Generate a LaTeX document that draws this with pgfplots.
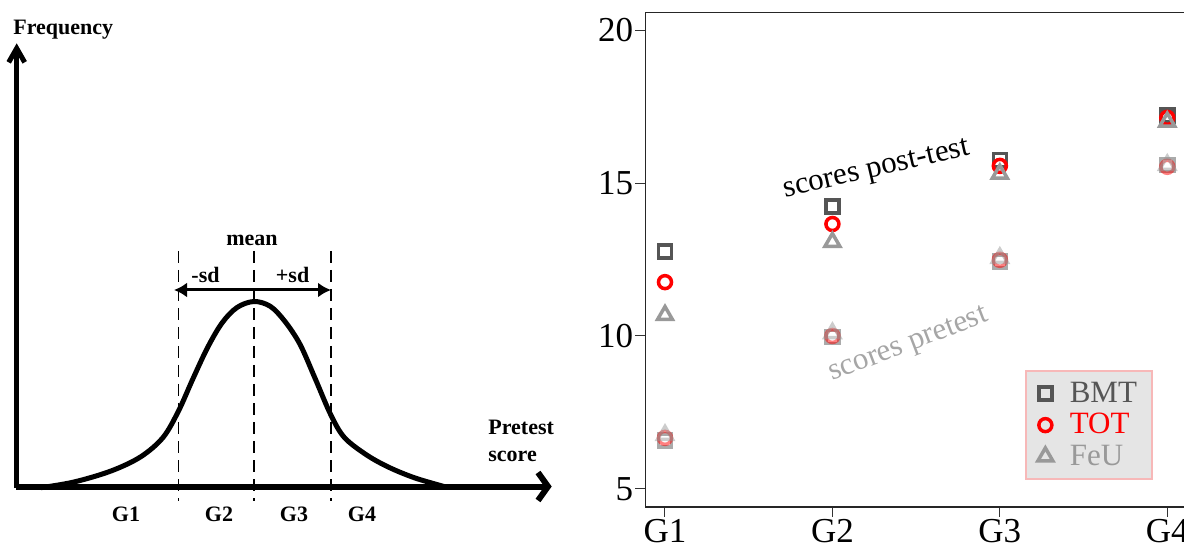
\documentclass[border=0pt]{standalone}
\usepackage{pgfplots}
\pgfplotsset{compat=1.18}
\usepackage{fontspec}
\setmainfont{Liberation Serif}
\usetikzlibrary{arrows.meta}
\definecolor{bmt}{HTML}{555555}
\definecolor{tot}{HTML}{FF0000}
\definecolor{feu}{HTML}{999999}
\definecolor{legfill}{HTML}{E5E5E5}
\definecolor{legdraw}{HTML}{F7B8B8}
\begin{document}
\begin{tikzpicture}
\useasboundingbox (0,0) rectangle (592pt,275.5pt);
% ---------------- left: schematic ----------------
\begin{axis}[at={(0pt,0pt)}, anchor=south west, scale only axis,
  width=290pt, height=275.5pt, xmin=0, xmax=580, ymin=0, ymax=551,
  y dir=reverse, hide axis, clip=false]
\addplot[black, line width=2.5pt, smooth, tension=0.55] coordinates {
 (40.7,487.7) (74,482) (111,471) (140.7,456.8) (163,437.5) (178.5,411)
 (192.6,379.5) (207.4,347.9) (222,323) (237,307.5) (254,301.5)
 (270.4,306.4) (285,321.5) (300,344.3) (314.8,377.7) (330.7,414.6)
 (344.4,437.5) (366.7,455) (388.9,467.3) (414.8,477.9) (444.4,486.6)};
\addplot[black, line width=0.8pt, dash pattern=on 6pt off 3.5pt] coordinates {(178.5,251) (178.5,501)};
\addplot[black, line width=0.8pt, dash pattern=on 6pt off 3.5pt] coordinates {(254,251) (254,501)};
\addplot[black, line width=0.8pt, dash pattern=on 6pt off 3.5pt] coordinates {(330.7,251) (330.7,501)};
\addplot[black, line width=1.5pt, {Latex[length=6.5pt,width=7.5pt]}-{Latex[length=6.5pt,width=7.5pt]}] coordinates {(174,290) (331,290)};
\addplot[black, line width=2.5pt, -{Straight Barb[length=7pt,width=8pt]}] coordinates {(16.7,488) (16.7,43.3)};
\addplot[black, line width=3pt, -{Straight Barb[length=5pt,width=14pt]}] coordinates {(15.5,486.5) (551.7,486.5)};
\node[anchor=base west, font=\fontsize{11}{12}\selectfont\bfseries, inner sep=0pt] at (axis cs:13,35) {Frequency};
\node[anchor=base, font=\fontsize{11}{12}\selectfont\bfseries, inner sep=0pt] at (axis cs:252,246) {mean};
\node[anchor=base, font=\fontsize{11}{12}\selectfont\bfseries, inner sep=0pt] at (axis cs:205.5,283) {-sd};
\node[anchor=base, font=\fontsize{11}{12}\selectfont\bfseries, inner sep=0pt] at (axis cs:292.6,283) {+sd};
\node[anchor=base west, font=\fontsize{11}{12}\selectfont\bfseries, inner sep=0pt] at (axis cs:488,435) {Pretest};
\node[anchor=base west, font=\fontsize{11}{12}\selectfont\bfseries, inner sep=0pt] at (axis cs:488,461.7) {score};
\node[anchor=base, font=\fontsize{11}{12}\selectfont\bfseries, inner sep=0pt] at (axis cs:126,521.8) {G1};
\node[anchor=base, font=\fontsize{11}{12}\selectfont\bfseries, inner sep=0pt] at (axis cs:219,521.8) {G2};
\node[anchor=base, font=\fontsize{11}{12}\selectfont\bfseries, inner sep=0pt] at (axis cs:294,521.8) {G3};
\node[anchor=base, font=\fontsize{11}{12}\selectfont\bfseries, inner sep=0pt] at (axis cs:362,521.8) {G4};
\end{axis}
% ---------------- right: scores ----------------
\begin{axis}[at={(322.7pt,22pt)}, anchor=south west, scale only axis,
  width=269.3pt, height=247.35pt,
  xmin=0.883, xmax=4.10, ymin=4.41, ymax=20.58,
  axis x line=box, axis y line*=left,
  xtick={1,2,3,4}, xticklabels={G1,G2,G3,G4}, ytick={5,10,15,20},
  tick align=outside, xtick pos=bottom, ytick pos=left,
  major tick length=5pt,
  tick style={black!80, line width=0.5pt},
  axis line style={black!85, line width=0.6pt},
  ticklabel style={font=\fontsize{17.5}{18}\selectfont},
  yticklabel style={inner sep=1pt},
  xticklabel style={inner sep=1pt},
  /pgf/number format/assume math mode=true,
  clip=false,
  legend cell align=left,
  legend style={at={(0.705,0.0546)}, anchor=south west, fill=legfill,
    draw=legdraw, line width=0.8pt, font=\fontsize{15.5}{16}\selectfont,
    nodes={inner sep=1.5pt}, row sep=1pt, inner xsep=6pt, inner ysep=4pt},
  ]
% post-test
\addplot[only marks, mark=square, mark size=3.25pt, color=bmt, mark options={line width=1.75pt}] coordinates {(1,12.76) (2,14.23) (3,15.75) (4,17.21)};
\addlegendentry{\hspace*{7pt}\textcolor{bmt}{BMT}}
\addplot[only marks, mark=o, mark size=3.25pt, color=tot, mark options={line width=1.75pt}] coordinates {(1,11.76) (2,13.66) (3,15.56) (4,17.13)};
\addlegendentry{\hspace*{7pt}\textcolor{tot}{TOT}}
\addplot[only marks, mark=triangle, mark size=4.3pt, color=feu, mark options={line width=1.75pt}] coordinates {(1,10.68) (2,13.07) (3,15.3) (4,17.0)};
\addlegendentry{\hspace*{7pt}\textcolor{feu}{FeU}}
% pretest
\addplot[forget plot, only marks, mark=square, mark size=3.25pt, color=bmt, opacity=0.5, mark options={line width=1.75pt}] coordinates {(1,6.59) (2,9.97) (3,12.44) (4,15.59)};
\addplot[forget plot, only marks, mark=o, mark size=3.25pt, color=tot, opacity=0.5, mark options={line width=1.75pt}] coordinates {(1,6.67) (2,10.0) (3,12.49) (4,15.53)};
\addplot[forget plot, only marks, mark=triangle, mark size=4.3pt, color=feu, opacity=0.5, mark options={line width=1.75pt}] coordinates {(1,6.76) (2,10.09) (3,12.55) (4,15.59)};
\node[rotate=13, font=\fontsize{15.5}{16}\selectfont, inner sep=0pt] at (axis cs:2.266,15.4) {scores post-test};
\node[rotate=21, font=\fontsize{15.5}{16}\selectfont, text=black!35, inner sep=0pt] at (axis cs:2.457,9.68) {scores pretest};
\end{axis}
\end{tikzpicture}
\end{document}
